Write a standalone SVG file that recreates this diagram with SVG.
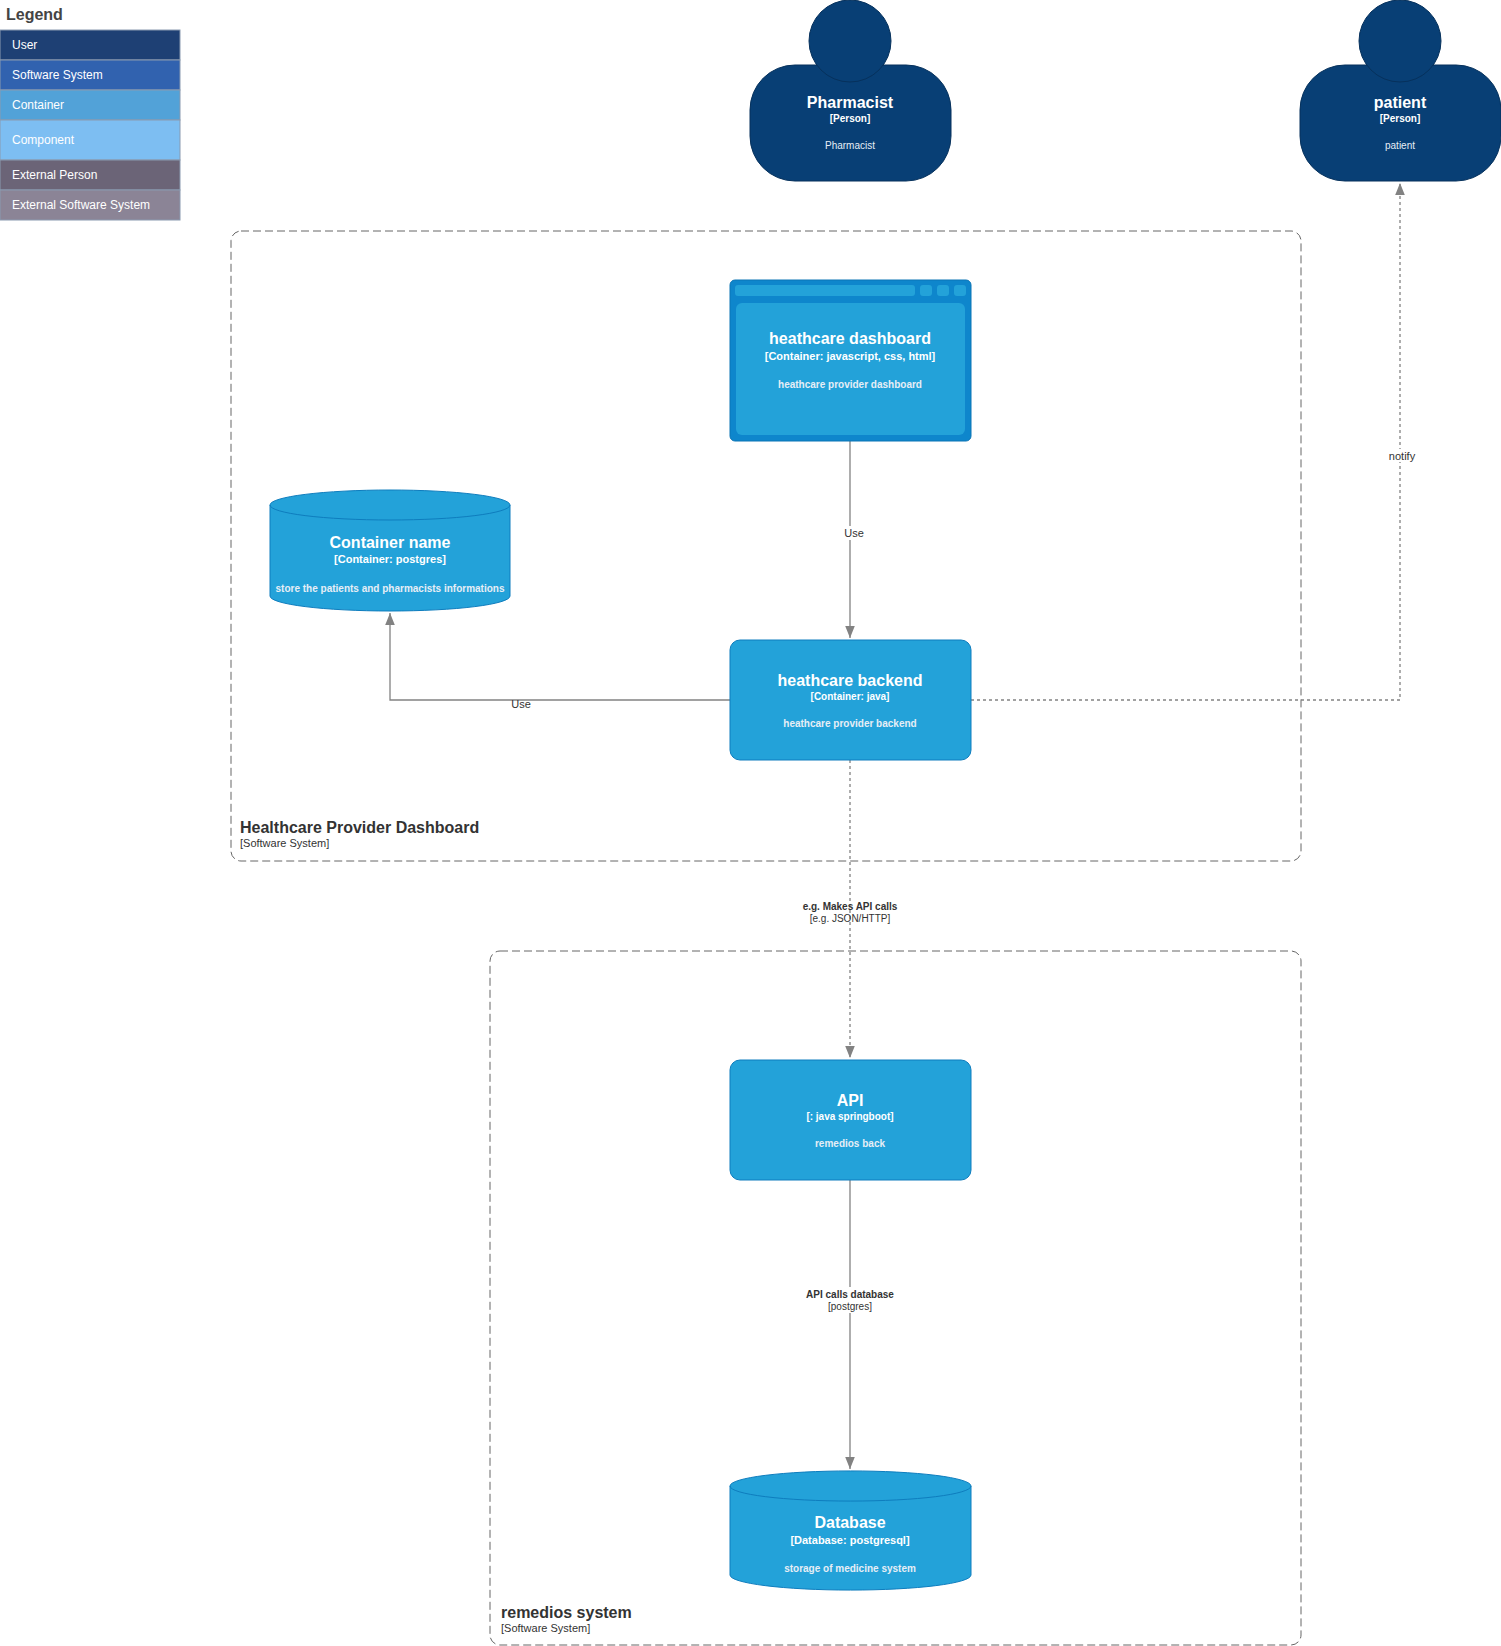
<svg xmlns="http://www.w3.org/2000/svg" width="1501" height="1646" viewBox="0 0 1501 1646">
<defs>
<style>
text{font-family:"Liberation Sans",Arial,sans-serif;text-anchor:middle;fill:#fff}
.t{font-size:16px;font-weight:bold}
.s{font-size:11px;font-weight:bold}
.d{font-size:11px;font-weight:bold;fill:#e6eef6}
.lg{font-size:12px;text-anchor:start}
.node{fill:#23a2d9;stroke:#0e7dbe;stroke-width:1}
.person{fill:#083f75;stroke:#06315c}
.bnd{fill:none;stroke:#666;stroke-width:1;stroke-dasharray:8 4}
.bl{fill:#333;text-anchor:start}
.e{fill:none;stroke:#828282;stroke-width:1.3}
.el{font-size:11px;fill:#333}
</style>
<marker id="ar" viewBox="0 0 10 10" refX="10" refY="5" markerWidth="16" markerHeight="12" markerUnits="userSpaceOnUse" orient="auto"><path d="M0,1 L10,5 L0,9 z" fill="#828282"/></marker>
</defs>
<rect width="1501" height="1646" fill="#fff"/>
<g id="legend">
<text x="6" y="20" style="font-size:16px;font-weight:bold;fill:#444;text-anchor:start">Legend</text>
<rect x="0" y="30" width="180" height="30" fill="#1e4074" stroke="#8a9ab0"/>
<rect x="0" y="60" width="180" height="30" fill="#3162af" stroke="#8a9ab0"/>
<rect x="0" y="90" width="180" height="30" fill="#52a2d8" stroke="#8a9ab0"/>
<rect x="0" y="120" width="180" height="40" fill="#7dbef2" stroke="#8a9ab0"/>
<rect x="0" y="160" width="180" height="30" fill="#6b6477" stroke="#8a9ab0"/>
<rect x="0" y="190" width="180" height="30" fill="#8b8496" stroke="#8a9ab0"/>
<text class="lg" x="12" y="49">User</text>
<text class="lg" x="12" y="79">Software System</text>
<text class="lg" x="12" y="109">Container</text>
<text class="lg" x="12" y="144">Component</text>
<text class="lg" x="12" y="179">External Person</text>
<text class="lg" x="12" y="209">External Software System</text>
</g>
<g id="boundary-hpd">
<rect class="bnd" x="231" y="231" width="1070" height="630" rx="10"/>
<text class="bl" x="240" y="833" style="font-size:16px;font-weight:bold">Healthcare Provider Dashboard</text>
<text class="bl" x="240" y="847" style="font-size:11px">[Software System]</text>
</g>
<g id="boundary-remedios">
<rect class="bnd" x="490" y="951" width="811" height="694" rx="10"/>
<text class="bl" x="501" y="1618" style="font-size:16px;font-weight:bold">remedios system</text>
<text class="bl" x="501" y="1632" style="font-size:11px">[Software System]</text>
</g>
<g id="connectors">
<path class="e" d="M850,441 V638" marker-end="url(#ar)"/>
<rect x="842" y="526" width="18" height="14" fill="#fff"/>
<text class="el" x="854" y="537">Use</text>
<path class="e" d="M730,700 H390 V613" marker-end="url(#ar)"/>
<text class="el" x="521" y="708">Use</text>
<path class="e" d="M971,700 H1400 V183" stroke-dasharray="3 3" marker-end="url(#ar)"/>
<rect x="1385" y="449" width="32" height="13" fill="#fff"/>
<text class="el" x="1402" y="460">notify</text>
<path class="e" d="M850,760 V1058" stroke-dasharray="3 3" marker-end="url(#ar)"/>
<text class="el" x="850" y="910" style="font-size:10px;font-weight:bold">e.g. Makes API calls</text>
<text class="el" x="850" y="922" style="font-size:10px">[e.g. JSON/HTTP]</text>
<path class="e" d="M850,1180 V1469" marker-end="url(#ar)"/>
<rect x="805" y="1287" width="90" height="26" fill="#fff"/>
<text class="el" x="850" y="1298" style="font-size:10px;font-weight:bold">API calls database</text>
<text class="el" x="850" y="1310" style="font-size:10px">[postgres]</text>
</g>
<g id="pharmacist">
<rect class="person" x="750" y="65" width="201" height="116" rx="45"/>
<ellipse class="person" cx="850" cy="41" rx="41" ry="41"/>
<text class="t" x="850" y="108">Pharmacist</text>
<text class="s" x="850" y="122" style="font-size:10px">[Person]</text>
<text class="d" x="850" y="149" style="font-size:10px;font-weight:normal">Pharmacist</text>
</g>
<g id="patient">
<rect class="person" x="1300" y="65" width="201" height="116" rx="45"/>
<ellipse class="person" cx="1400" cy="41" rx="41" ry="41"/>
<text class="t" x="1400" y="108">patient</text>
<text class="s" x="1400" y="122" style="font-size:10px">[Person]</text>
<text class="d" x="1400" y="149" style="font-size:10px;font-weight:normal">patient</text>
</g>
<g id="dashboard">
<rect x="730" y="280" width="241" height="161" rx="5" fill="#0e86cc" stroke="#0b74b5"/>
<rect x="735" y="285" width="180" height="11" rx="3" fill="#23a2d9"/>
<rect x="920" y="285" width="12" height="11" rx="3" fill="#23a2d9"/>
<rect x="937" y="285" width="12" height="11" rx="3" fill="#23a2d9"/>
<rect x="954" y="285" width="12" height="11" rx="3" fill="#23a2d9"/>
<rect x="736" y="303" width="229" height="132" rx="6" fill="#23a2d9"/>
<text class="t" x="850" y="344">heathcare dashboard</text>
<text class="s" x="850" y="360">[Container: javascript, css, html]</text>
<text class="d" x="850" y="388" style="font-size:10px">heathcare provider dashboard</text>
</g>
<g id="container-db">
<path class="node" d="M270,505 A120,15 0 0 1 510,505 V596 A120,15 0 0 1 270,596 Z"/>
<path d="M270,505 A120,15 0 0 0 510,505" fill="none" stroke="#0e7dbe"/>
<text class="t" x="390" y="548">Container name</text>
<text class="s" x="390" y="563">[Container: postgres]</text>
<text class="d" x="390" y="592" style="font-size:10px">store the patients and pharmacists informations</text>
</g>
<g id="backend">
<rect class="node" x="730" y="640" width="241" height="120" rx="10"/>
<text class="t" x="850" y="686">heathcare backend</text>
<text class="s" x="850" y="700" style="font-size:10px">[Container: java]</text>
<text class="d" x="850" y="727" style="font-size:10px">heathcare provider backend</text>
</g>
<g id="api">
<rect class="node" x="730" y="1060" width="241" height="120" rx="10"/>
<text class="t" x="850" y="1106">API</text>
<text class="s" x="850" y="1120" style="font-size:10px">[: java springboot]</text>
<text class="d" x="850" y="1147" style="font-size:10px">remedios back</text>
</g>
<g id="database">
<path class="node" d="M730,1486 A120,15 0 0 1 971,1486 V1575 A120,15 0 0 1 730,1575 Z"/>
<path d="M730,1486 A120,15 0 0 0 971,1486" fill="none" stroke="#0e7dbe"/>
<text class="t" x="850" y="1528">Database</text>
<text class="s" x="850" y="1544">[Database: postgresql]</text>
<text class="d" x="850" y="1572" style="font-size:10px">storage of medicine system</text>
</g>
</svg>
